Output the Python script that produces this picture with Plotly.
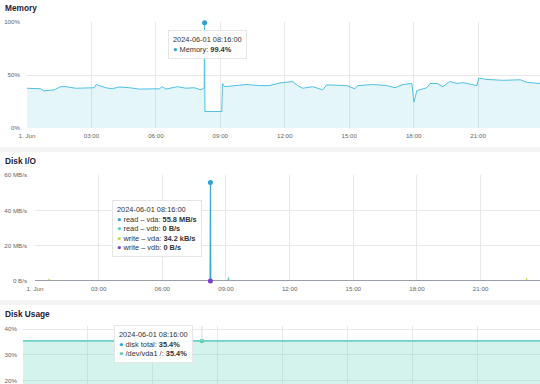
import plotly.graph_objects as go

DAY = "2024-06-01 "
HOVER = "08:16"

# ---------------- data ----------------
tick_times = ["00:00", "03:00", "06:00", "09:00", "12:00", "15:00", "18:00", "21:00"]
tick_labels = ["1. Jun", "03:00", "06:00", "09:00", "12:00", "15:00", "18:00", "21:00"]

mem_time = ["00:00", "00:38", "00:47", "01:16", "01:34", "01:49", "02:16", "03:08", "03:13",
            "03:40", "03:58", "04:17", "04:46", "05:14", "06:10", "06:18", "06:28", "06:46",
            "07:00", "07:24", "07:47", "08:06", "08:15", "08:16", "08:17", "09:04", "09:06",
            "09:12", "09:39", "10:12", "10:50", "11:17", "11:46", "12:22", "12:36", "12:50",
            "13:18", "13:46", "13:57", "14:53", "15:16", "15:24", "16:06", "16:45", "17:08",
            "17:30", "17:55", "18:01", "18:09", "18:37", "18:46", "19:05", "19:22", "19:41",
            "20:01", "20:18", "20:57", "21:02", "21:25", "22:10", "22:58", "23:17", "23:53"]
mem_pct = [37.5, 37, 35, 36, 39, 39, 37.5, 38, 41,
           38, 37, 38.7, 38, 36.7, 37, 39, 36.7, 38,
           39, 37.5, 38, 36, 38, 99.4, 15.6, 15.6, 42,
           39, 40, 41, 40, 40, 42.5, 43.8, 40, 37.5,
           39, 36, 40.7, 40, 37, 40, 41, 40, 38,
           41, 42, 24.4, 35.3, 38, 42, 42, 39, 44,
           42, 42.8, 40, 47, 45.8, 45, 45.5, 43, 42]

io_time = ["00:00", "00:38", "00:40", "00:42", "08:15", "08:16", "08:17",
           "09:05", "09:07", "09:09", "23:08", "23:10", "23:12", "23:48"]
read_vda = [0, 0, 0, 0, 0, 55.8, 0, 0, 0, 0, 0, 0, 0, 0]
read_vdb = [0, 0, 0, 0, 0, 0, 0, 0, 2.0, 0, 0, 0, 0, 0]
write_vda = [0, 0, 1.2, 0, 0, 0.0342, 0, 0, 0, 0, 0, 1.5, 0, 0]
write_vdb = [0, 0, 0, 0, 0, 0, 0, 0, 0, 0, 0, 0, 0, 0]

du_time = ["00:00", "08:16", "23:53"]
disk_total = [35.4, 35.4, 35.4]
vda1 = [35.4, 35.4, 35.4]

# ---------------- helpers ----------------
W, H = 540, 384
def pyp(y):
    return 1 - y / H
def pxp(x):
    return x / W

TICKFONT = dict(family="Liberation Sans", size=6.2, color="#666666")
TITLEFONT = dict(family="Liberation Sans", size=8.3, color="#1e2035")
TIPFONT = dict(family="Liberation Sans", size=7.4, color="#333333")
GRID = "#e8e8e8"

C_MEM = "#4fc1e3"
C_BLUE = "#2f9fd8"
C_TEAL = "#5ccfae"
C_YG = "#c8dc3c"
C_PURP = "#7b3fd0"
C_DU = "#6fd6c2"

def ts(lst):
    return [DAY + t for t in lst]

fig = go.Figure()

# Memory
fig.add_trace(go.Scatter(x=ts(mem_time), y=mem_pct, mode="lines",
                         line=dict(color=C_MEM, width=1),
                         fill="tozeroy", fillcolor="rgba(79,193,227,0.15)",
                         xaxis="x", yaxis="y", showlegend=False))
mi = mem_time.index(HOVER)
fig.add_trace(go.Scatter(x=[DAY + mem_time[mi]], y=[mem_pct[mi]], mode="markers",
                         marker=dict(color=C_BLUE, size=5), cliponaxis=False,
                         xaxis="x", yaxis="y", showlegend=False))

# Disk I/O
fig.add_trace(go.Scatter(x=ts(io_time), y=read_vda, mode="lines",
                         line=dict(color="#3aaade", width=1.2),
                         fill="tozeroy", fillcolor="rgba(58,170,222,0.35)",
                         xaxis="x2", yaxis="y2", showlegend=False, cliponaxis=False))
fig.add_trace(go.Scatter(x=ts(io_time), y=read_vdb, mode="lines",
                         line=dict(color=C_TEAL, width=1),
                         xaxis="x2", yaxis="y2", showlegend=False, cliponaxis=False))
fig.add_trace(go.Scatter(x=ts(io_time), y=write_vda, mode="lines",
                         line=dict(color=C_YG, width=1),
                         xaxis="x2", yaxis="y2", showlegend=False, cliponaxis=False))
fig.add_trace(go.Scatter(x=ts(io_time), y=write_vdb, mode="lines",
                         line=dict(color="#948cb4", width=1.3),
                         xaxis="x2", yaxis="y2", showlegend=False, cliponaxis=False))
ii = io_time.index(HOVER)
fig.add_trace(go.Scatter(x=[DAY + io_time[ii], DAY + io_time[ii]],
                         y=[read_vda[ii], write_vdb[ii]], mode="markers",
                         marker=dict(color=[C_BLUE, C_PURP], size=5), cliponaxis=False,
                         xaxis="x2", yaxis="y2", showlegend=False))

# Disk usage
fig.add_trace(go.Scatter(x=ts(du_time), y=disk_total, mode="lines",
                         line=dict(color=C_BLUE, width=1),
                         xaxis="x3", yaxis="y3", showlegend=False))
fig.add_trace(go.Scatter(x=ts(du_time), y=vda1, mode="lines",
                         line=dict(color=C_DU, width=1.3),
                         fill="tozeroy", fillcolor="rgba(111,214,194,0.3)",
                         xaxis="x3", yaxis="y3", showlegend=False))
di = du_time.index(HOVER)
fig.add_trace(go.Scatter(x=[DAY + du_time[di]], y=[vda1[di]], mode="markers",
                         marker=dict(color=C_TEAL, size=4.5), cliponaxis=False,
                         xaxis="x3", yaxis="y3", showlegend=False))

tickvals = ts(tick_times)

def xax(left_px, end, anchor, labels=True):
    return dict(domain=[pxp(left_px), 1], range=[DAY + "00:00", DAY + end],
                type="date", tickvals=tickvals, ticktext=tick_labels,
                showgrid=True, gridcolor=GRID, gridwidth=1, showline=False,
                zeroline=False, ticks="", tickfont=TICKFONT, anchor=anchor,
                ticklabelstandoff=3, automargin=False, showticklabels=labels)

def yax(top_px, bot_px, rng, vals, texts, anchor, standoff):
    return dict(domain=[max(0, pyp(bot_px)), pyp(top_px)], range=rng,
                tickvals=vals, ticktext=texts, showgrid=True, gridcolor=GRID,
                gridwidth=1, zeroline=False, showline=False, ticks="",
                tickfont=TICKFONT, anchor=anchor, ticklabelstandoff=standoff,
                automargin=False)

layout = dict(
    width=W, height=H, margin=dict(l=0, r=0, t=0, b=0, autoexpand=False),
    paper_bgcolor="white", plot_bgcolor="white",
    xaxis=xax(27, "23:53", "y"),
    yaxis=yax(22, 128, [0, 100], [0, 50, 100], ["0%", "50%", "100%"], "x", 6),
    xaxis2=xax(35, "23:48", "y2"),
    yaxis2=yax(175, 281, [0, 60], [0, 20, 40, 60],
               ["0 B/s", "20 MB/s", "40 MB/s", "60 MB/s"], "x2", 7),
    xaxis3=xax(23, "23:53", "y3", labels=False),
    yaxis3=yax(326, 384, [18.73, 41.16], [20, 30, 40], ["20%", "30%", "40%"], "x3", 5),
)
fig.update_layout(**layout)

# separators between panels
for y0, y1 in [(147, 152), (300, 305)]:
    fig.add_shape(type="rect", xref="paper", yref="paper", x0=0, x1=1,
                  y0=pyp(y1), y1=pyp(y0), fillcolor="#f4f4f4", line=dict(width=0),
                  layer="below")

# crosshair in disk usage
fig.add_shape(type="line", xref="x3", yref="y3", x0=DAY + HOVER, x1=DAY + HOVER,
              y0=vda1[di], y1=41.16, line=dict(color="#d8d8d8", width=1))

# titles
for txt, y in [("Memory", 7.5), ("Disk I/O", 160.5), ("Disk Usage", 314)]:
    fig.add_annotation(text="<b>%s</b>" % txt, xref="paper", yref="paper",
                       x=pxp(3), y=pyp(y), xanchor="left", yanchor="middle",
                       showarrow=False, font=TITLEFONT)

def dot(c):
    return "<span style='color:%s'>●</span>" % c

TIP = dict(xref="paper", yref="paper", xanchor="left", yanchor="top", align="left",
           showarrow=False, font=TIPFONT, bgcolor="rgba(255,255,255,0.95)",
           bordercolor="#e6e6e6", borderwidth=1, borderpad=4)

# tooltips
fig.add_annotation(
    text="2024-06-01 08:16:00<br>%s Memory: <b>%.1f%%</b>" % (dot(C_BLUE), mem_pct[mi]),
    x=pxp(168), y=pyp(30), **TIP)

fig.add_annotation(
    text=("2024-06-01 08:16:00<br>%s read – vda: <b>%.1f MB/s</b><br>%s read – vdb: <b>0 B/s</b>"
          "<br>%s write – vda: <b>%.1f kB/s</b><br>%s write – vdb: <b>0 B/s</b>")
    % (dot(C_BLUE), read_vda[ii], dot(C_TEAL), dot(C_YG), write_vda[ii] * 1000, dot(C_PURP)),
    x=pxp(112), y=pyp(200), **TIP)

fig.add_annotation(
    text=("2024-06-01 08:16:00<br>%s disk total: <b>%.1f%%</b><br>%s /dev/vda1 /: <b>%.1f%%</b>")
    % (dot(C_BLUE), disk_total[di], dot(C_TEAL), vda1[di]),
    x=pxp(114), y=pyp(325), **TIP)

fig.write_html("out.html")
